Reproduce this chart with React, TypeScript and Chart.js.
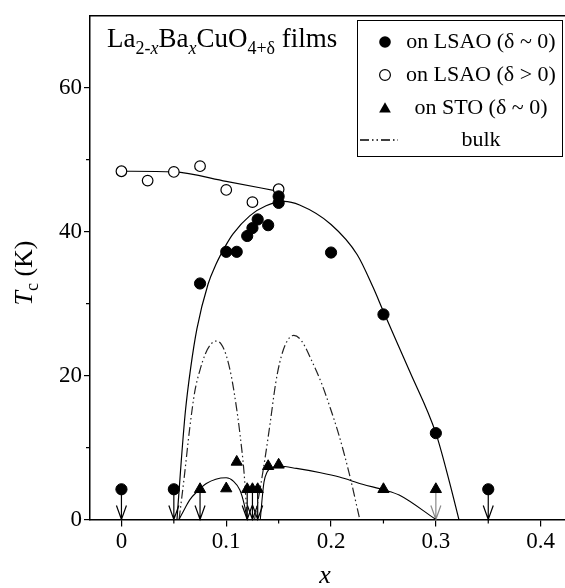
import React, { useEffect, useRef } from "react";
import { Chart, registerables } from "chart.js";

Chart.register(...registerables);

// ---------- axis ticks ----------
const xTicks = [0, 0.1, 0.2, 0.3, 0.4];
const xMinorTicks = [0.05, 0.15, 0.25, 0.35];
const yTicks = [0, 20, 40, 60];
const yMinorTicks = [10, 30, 50];

// ---------- measured points ----------
const lsaoFilledX = [0, 0.05, 0.075, 0.1, 0.11, 0.12, 0.125, 0.13, 0.14, 0.15, 0.15, 0.2, 0.25, 0.3, 0.35];
const lsaoFilledY = [4.2, 4.2, 32.8, 37.2, 37.2, 39.4, 40.5, 41.7, 40.9, 44.0, 44.9, 37.1, 28.5, 12.0, 4.2];

const lsaoOpenX = [0, 0.025, 0.05, 0.075, 0.1, 0.125, 0.15];
const lsaoOpenY = [48.4, 47.1, 48.3, 49.1, 45.8, 44.1, 45.9];

const stoX = [0.075, 0.1, 0.11, 0.12, 0.125, 0.13, 0.14, 0.15, 0.25, 0.3];
const stoY = [4.2, 4.3, 8.0, 4.2, 4.2, 4.2, 7.4, 7.6, 4.2, 4.2];

// upper-limit arrows (Tc below 4.2 K)
const arrowX = [0, 0.05, 0.075, 0.12, 0.125, 0.13, 0.3, 0.35];
const arrowFromY = 4.2;

// ---------- guide curves ----------
const openFitX = [0, 0.05, 0.1, 0.15];
const openFitY = [48.4, 48.3, 47.0, 45.6];

const domeX = [0.053, 0.057, 0.061, 0.066, 0.072, 0.0826, 0.09, 0.1, 0.1065, 0.1224, 0.138, 0.155, 0.17, 0.2, 0.225, 0.24, 0.25, 0.275, 0.3, 0.313, 0.322];
const domeY = [0, 8, 15, 21, 26.5, 32.7, 35.4, 38.2, 39.7, 42.2, 43.6, 44.2, 43.7, 41.0, 36.8, 32.3, 28.9, 20.6, 12, 5.2, 0];

const stoFit1X = [0.055, 0.06, 0.065, 0.073, 0.081, 0.09, 0.1, 0.107, 0.113, 0.117, 0.12];
const stoFit1Y = [0, 1.4, 2.7, 4.0, 5.0, 5.6, 5.8, 5.3, 4.1, 2.2, 0];

const stoFit2X = [0.1325, 0.134, 0.136, 0.139, 0.143, 0.151, 0.167, 0.19, 0.208, 0.23, 0.251, 0.265, 0.3];
const stoFit2Y = [0, 2.5, 5.2, 6.6, 7.2, 7.4, 7.1, 6.5, 5.9, 4.9, 4.1, 3.4, 0];

const bulk1X = [0.055, 0.06, 0.065, 0.07, 0.075, 0.08, 0.085, 0.09, 0.095, 0.1, 0.105, 0.11, 0.113, 0.117, 0.12];
const bulk1Y = [0, 6, 12.5, 17.8, 20.8, 23.0, 24.3, 24.8, 24.4, 22.8, 19.8, 15.3, 12, 6.5, 0];

const bulk2X = [0.127, 0.132, 0.137, 0.142, 0.147, 0.151, 0.157, 0.1645, 0.172, 0.183, 0.191, 0.199, 0.208, 0.218, 0.2274];
const bulk2Y = [0, 4, 8.5, 13.5, 18.8, 21.8, 24.5, 25.6, 24.8, 21.6, 18.9, 15.6, 11.5, 6, 0];

// ---------- text ----------
const legendLabels = ["on LSAO (\u03b4 ~ 0)", "on LSAO (\u03b4 > 0)", "on STO (\u03b4 ~ 0)", "bulk"];

const SERIF = "'Liberation Serif', 'Times New Roman', serif";
const BULK_DASH = [9, 3, 1.5, 3, 1.5, 3];

const pts = (xs: number[], ys: number[]) => xs.map((x, i) => ({ x, y: ys[i] }));

function drawRuns(ctx: CanvasRenderingContext2D, runs: { t: string; size: number; italic?: boolean; dy?: number }[], x: number, y: number) {
  let cx = x;
  for (const r of runs) {
    ctx.font = `${r.italic ? "italic " : ""}${r.size}px ${SERIF}`;
    ctx.fillText(r.t, cx, y + (r.dy || 0));
    cx += ctx.measureText(r.t).width;
  }
  return cx - x;
}
function measureRuns(ctx: CanvasRenderingContext2D, runs: { t: string; size: number; italic?: boolean }[]) {
  let w = 0;
  for (const r of runs) {
    ctx.font = `${r.italic ? "italic " : ""}${r.size}px ${SERIF}`;
    w += ctx.measureText(r.t).width;
  }
  return w;
}

function drawTri(ctx: CanvasRenderingContext2D, x: number, y: number, r: number) {
  ctx.beginPath();
  ctx.moveTo(x, y - r);
  ctx.lineTo(x + Math.sin((2 * Math.PI) / 3) * r, y - Math.cos((2 * Math.PI) / 3) * r);
  ctx.lineTo(x + Math.sin((4 * Math.PI) / 3) * r, y - Math.cos((4 * Math.PI) / 3) * r);
  ctx.closePath();
  ctx.fill();
}

const decoPlugin = {
  id: "deco",
  beforeDatasetsDraw(chart: any) {
    const { ctx, scales } = chart;
    const xs = scales.x, ys = scales.y;
    ctx.save();
    const bot = ys.getPixelForValue(0);
    const top = ys.getPixelForValue(arrowFromY);
    arrowX.forEach((xv) => {
      const px = xs.getPixelForValue(xv);
      ctx.strokeStyle = xv === 0.3 ? "#8a8a8a" : "#000";
      ctx.lineWidth = 1.2;
      ctx.beginPath();
      ctx.moveTo(px, top);
      ctx.lineTo(px, bot);
      ctx.moveTo(px - 5, bot - 14);
      ctx.lineTo(px, bot);
      ctx.lineTo(px + 5, bot - 14);
      ctx.stroke();
    });
    ctx.restore();
  },
  afterDraw(chart: any) {
    const { ctx, chartArea, scales } = chart;
    const xs = scales.x, ys = scales.y;
    ctx.save();
    ctx.strokeStyle = "#000";
    // top + right frame
    ctx.lineWidth = 1.5;
    ctx.beginPath();
    ctx.moveTo(chartArea.left, chartArea.top);
    ctx.lineTo(chartArea.right, chartArea.top);
    ctx.lineTo(chartArea.right, chartArea.bottom);
    ctx.stroke();
    // minor ticks
    ctx.lineWidth = 1.2;
    ctx.beginPath();
    xMinorTicks.forEach((v) => {
      const px = xs.getPixelForValue(v);
      ctx.moveTo(px, chartArea.bottom);
      ctx.lineTo(px, chartArea.bottom + 4);
    });
    yMinorTicks.forEach((v) => {
      const py = ys.getPixelForValue(v);
      ctx.moveTo(chartArea.left - 4, py);
      ctx.lineTo(chartArea.left, py);
    });
    ctx.stroke();

    ctx.fillStyle = "#000";
    ctx.textBaseline = "alphabetic";
    ctx.textAlign = "left";

    // x title
    ctx.font = `italic 26px ${SERIF}`;
    ctx.textAlign = "center";
    ctx.fillText("x", 325, 583);
    ctx.textAlign = "left";

    // y title (rotated)
    const yRuns = [
      { t: "T", size: 26, italic: true },
      { t: "c", size: 18, dy: 6 },
      { t: " (K)", size: 26 },
    ];
    const yw = measureRuns(ctx, yRuns);
    ctx.save();
    ctx.translate(32, 273);
    ctx.rotate(-Math.PI / 2);
    drawRuns(ctx, yRuns, -yw / 2, 0);
    ctx.restore();

    // compound annotation
    drawRuns(
      ctx,
      [
        { t: "La", size: 27 },
        { t: "2-", size: 18, dy: 7 },
        { t: "x", size: 18, italic: true, dy: 7 },
        { t: "Ba", size: 27 },
        { t: "x", size: 18, italic: true, dy: 7 },
        { t: "CuO", size: 27 },
        { t: "4+\u03b4", size: 18, dy: 7 },
        { t: " films", size: 27 },
      ],
      107,
      47
    );

    // legend box
    ctx.lineWidth = 1;
    ctx.strokeStyle = "#000";
    ctx.strokeRect(357.5, 20.5, 205, 136);
    const rowsY = [42, 75, 108, 140];
    const mx = 385;
    ctx.fillStyle = "#000";
    ctx.beginPath();
    ctx.arc(mx, rowsY[0], 5.8, 0, Math.PI * 2);
    ctx.fill();
    ctx.beginPath();
    ctx.arc(mx, rowsY[1], 5.4, 0, Math.PI * 2);
    ctx.fillStyle = "#fff";
    ctx.fill();
    ctx.lineWidth = 1.2;
    ctx.stroke();
    ctx.fillStyle = "#000";
    drawTri(ctx, mx, rowsY[2] + 1, 6.8);
    ctx.lineWidth = 1.3;
    ctx.setLineDash(BULK_DASH);
    ctx.beginPath();
    ctx.moveTo(360, rowsY[3]);
    ctx.lineTo(398, rowsY[3]);
    ctx.stroke();
    ctx.setLineDash([]);

    ctx.font = `22px ${SERIF}`;
    ctx.textAlign = "center";
    ctx.textBaseline = "middle";
    legendLabels.forEach((t, i) => ctx.fillText(t, 481, rowsY[i]));
    ctx.restore();
  },
};

export default function App() {
  const ref = useRef<HTMLCanvasElement>(null);
  useEffect(() => {
    document.body.style.margin = "0";
    const lineDs = (data: any, extra: any = {}) => ({
      data,
      showLine: true,
      pointRadius: 0,
      borderColor: "#000",
      borderWidth: 1.2,
      fill: false,
      cubicInterpolationMode: "monotone",
      ...extra,
    });
    const chart = new Chart(ref.current as HTMLCanvasElement, {
      type: "scatter",
      data: {
        datasets: [
          {
            label: legendLabels[0],
            data: pts(lsaoFilledX, lsaoFilledY),
            pointStyle: "circle",
            pointRadius: 5.6,
            backgroundColor: "#000",
            borderColor: "#000",
            borderWidth: 1,
          },
          {
            label: legendLabels[1],
            data: pts(lsaoOpenX, lsaoOpenY),
            pointStyle: "circle",
            pointRadius: 5.3,
            backgroundColor: "#fff",
            borderColor: "#000",
            borderWidth: 1.2,
          },
          {
            label: legendLabels[2],
            data: pts(stoX, stoY),
            pointStyle: "triangle",
            pointRadius: 6.5,
            backgroundColor: "#000",
            borderColor: "#000",
            borderWidth: 1,
          },
          lineDs(pts(openFitX, openFitY)),
          lineDs(pts(domeX, domeY)),
          lineDs(pts(stoFit1X, stoFit1Y), { borderWidth: 1.1 }),
          lineDs(pts(stoFit2X, stoFit2Y), { borderWidth: 1.1 }),
          lineDs(pts(bulk1X, bulk1Y), { borderDash: BULK_DASH, borderColor: "#222", borderWidth: 1.2 }),
          lineDs(pts(bulk2X, bulk2Y), { borderDash: BULK_DASH, borderColor: "#222", borderWidth: 1.2 }),
        ] as any,
      },
      options: {
        responsive: false,
        animation: false,
        devicePixelRatio: 1,
        events: [],
        layout: { padding: { top: 14, right: 10, left: 0, bottom: 0 } },
        plugins: { legend: { display: false }, tooltip: { enabled: false } },
        scales: {
          x: {
            type: "linear",
            min: -0.03,
            max: 0.428,
            afterBuildTicks: (axis: any) => {
              axis.ticks = xTicks.map((v) => ({ value: v }));
            },
            afterFit: (axis: any) => {
              axis.height = 68.5;
            },
            grid: { display: true, drawOnChartArea: false, drawTicks: true, tickLength: 7, color: "#000", lineWidth: 1.2 },
            border: { display: true, color: "#000", width: 1.5 },
            ticks: {
              font: { family: SERIF, size: 23 },
              color: "#000",
              padding: 2,
              maxRotation: 0,
              autoSkip: false,
              callback: (v: any) => String(v),
            },
          },
          y: {
            type: "linear",
            min: 0,
            max: 70,
            afterBuildTicks: (axis: any) => {
              axis.ticks = yTicks.map((v) => ({ value: v }));
            },
            afterFit: (axis: any) => {
              axis.width = 90;
            },
            grid: { display: true, drawOnChartArea: false, drawTicks: true, tickLength: 6, color: "#000", lineWidth: 1.2 },
            border: { display: true, color: "#000", width: 1.5 },
            ticks: {
              font: { family: SERIF, size: 23 },
              color: "#000",
              padding: 2,
              autoSkip: false,
              callback: (v: any) => String(v),
            },
          },
        },
      } as any,
      plugins: [decoPlugin],
    });
    return () => chart.destroy();
  }, []);
  return (
    <div style={{ width: 565, height: 588, overflow: "hidden", position: "relative", background: "#fff" }}>
      <canvas ref={ref} width={580} height={588} style={{ display: "block", width: 580, height: 588 }} />
    </div>
  );
}
